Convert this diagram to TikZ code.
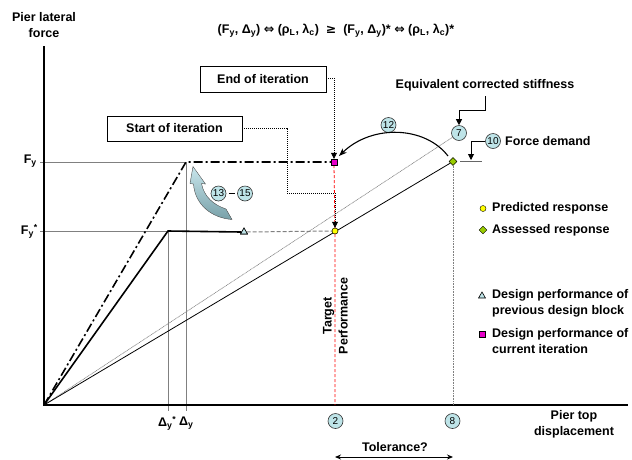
\documentclass[tikz,border=0pt]{standalone}
\usepackage{fontspec}
\setmainfont{Liberation Sans}
\newfontfamily\symfont{DejaVu Sans}
\usetikzlibrary{arrows.meta,shapes.geometric}
\definecolor{circfill}{RGB}{190,228,232}
\definecolor{pinkc}{RGB}{230,0,200}
\definecolor{yelc}{RGB}{255,255,0}
\definecolor{greenc}{RGB}{153,204,0}
\definecolor{arrtop}{RGB}{200,230,236}
\definecolor{arrbot}{RGB}{120,160,168}
\tikzset{
  lbl/.style={font=\bfseries\fontsize{12.5}{16}\selectfont, inner sep=0pt},
  num/.style={circle, draw=black!80, line width=0.6pt, fill=circfill, minimum size=15pt, inner sep=0pt, font=\fontsize{10}{10}\selectfont},
  itbox/.style={draw, line width=0.8pt, inner sep=0pt, font=\bfseries\fontsize{12.5}{16}\selectfont},
  guide/.style={draw=gray, line width=0.9pt},
  leader/.style={draw=black, line width=0.7pt, dash pattern=on 1pt off 1pt},
  tip/.style={-{Triangle[length=6pt,width=6pt]}},
  ysq/.style={circle, draw=black, line width=0.4pt, fill=yelc, minimum size=6pt, inner sep=0pt},
  gdia/.style={diamond, draw=black, line width=0.4pt, fill=greenc, minimum size=8pt, inner sep=0pt},
  psq/.style={rectangle, draw=black, line width=0.4pt, fill=pinkc, minimum size=6pt, inner sep=0pt},
  tri/.style={regular polygon, regular polygon sides=3, draw=black, line width=0.6pt, fill=circfill, minimum size=8pt, inner sep=0pt},
}
\begin{document}
\begin{tikzpicture}[x=1pt,y=-1pt]
\useasboundingbox (0,0) rectangle (632,459);
% coordinates
\coordinate (O) at (44,405);
\coordinate (Ytop) at (44,46);
\coordinate (Xend) at (628,405);
\coordinate (Y) at (186,162);
\coordinate (Ys) at (168,231);
\coordinate (FyL) at (40,162);
\coordinate (FysL) at (40,231);
\coordinate (DyB) at (186,411);
\coordinate (DysB) at (168,411);
% guides
\draw[guide] (FyL) -- (Y) -- (DyB);
\draw[guide] (FysL) -- (Ys) -- (DysB);
% axes
\draw[line width=1.2pt] (Ytop) -- (O) -- (Xend);
% markers
\node[psq] (P) at (334,162) {};
\node[ysq] (Q) at (335,231) {};
\node[gdia] (D) at (453,161.5) {};
\node[tri] (T) at (244,232) {};
\node[num] (c7) at (459,133) {7};
% lines from origin
\draw[draw=gray, line width=0.6pt, dash pattern=on 1pt off 0.6pt] (O) -- (c7);
\draw[line width=0.8pt] (O) -- (D);
\draw[line width=1.6pt, dash pattern=on 9pt off 3pt on 2pt off 3pt] (O) -- (Y) -- (P.west);
\draw[line width=1.6pt] (O) -- (Ys) -- (T.west);
\draw[draw=gray, line width=1pt, dash pattern=on 4pt off 2pt] (T.east) -- (Q.west);
\coordinate (PB) at (335,405);
\draw[red, line width=0.8pt, dash pattern=on 3pt off 2pt] (P.south) -- (Q) -- (PB);
\coordinate (DB) at (453,405);
\draw[draw=gray, line width=0.8pt, dash pattern=on 1pt off 0.6pt] (D.south) -- (DB);
% redraw markers on top
\node[psq] at (334,162) {};
\node[ysq] at (335,231) {};
\node[gdia] at (453,161.5) {};
\node[tri] at (244,232) {};
% axis labels
\node[lbl, align=center] (ylab) at (44,25) {Pier lateral\\force};
\node[lbl, align=center] (xlab) at (574,424) {Pier top\\displacement};
\node[lbl, anchor=east] (Fy) at (37,161) {F\textsubscript{y}};
\node[lbl, anchor=east] (Fys) at (38,231) {F\textsubscript{y}\textsuperscript{*}};
\node[lbl, anchor=east] (Dys) at (176.5,423) {Δ\textsubscript{y}\textsuperscript{*}};
\node[lbl, anchor=west] (Dy) at (179,423) {Δ\textsubscript{y}};
% formula
\node[lbl] (form) at (336,31) {(F\textsubscript{y}, Δ\textsubscript{y}) {\symfont\bfseries ⇔} (ρ\textsubscript{L}, λ\textsubscript{c})\ \ {\symfont\bfseries ≥}\ \ (F\textsubscript{y}, Δ\textsubscript{y})* {\symfont\bfseries ⇔} (ρ\textsubscript{L}, λ\textsubscript{c})*};
% boxes
\node[itbox, minimum width=126pt, minimum height=26pt] (endb) at (263,79) {End of iteration};
\node[itbox, minimum width=135pt, minimum height=25pt] (startb) at (174.5,128.5) {Start of iteration};
\coordinate (e1) at (334,78);
\draw[leader] (endb.east |- e1) -- (e1);
\draw[leader, tip] (e1) -- (P.north);
\coordinate (s1) at (287,128);
\coordinate (s2) at (287,193);
\coordinate (s3) at (335,193);
\draw[leader] (startb.east |- s1) -- (s1) -- (s2) -- (s3);
\draw[leader, tip] (s3) -- (Q.north);
% equivalent stiffness
\node[lbl] (eqs) at (485,85) {Equivalent corrected stiffness};
\coordinate (q1) at (485,110);
\coordinate (q2) at (459,110);
\draw[line width=1pt] (eqs.south |- 0,96) -- (q1) -- (q2);
\draw[line width=1pt, tip] (q2) -- (c7.north);
% force demand
\node[num] (c10) at (493,141) {10};
\node[lbl, anchor=west] (fd) at (505,141) {Force demand};
\coordinate (b1) at (460,161.5);
\coordinate (b2) at (482,161.5);
\draw[draw=gray!80!black, line width=1.6pt] (b1) -- (b2);
\coordinate (f1) at (471,141);
\coordinate (f2) at (471,160);
\draw[line width=0.9pt] (c10.west) -- (f1);
\draw[line width=0.9pt, tip] (f1) -- (f2);
% curved arrow 12
\node[num] (c12) at (388.5,125) {12};
\draw[line width=1.1pt, -{Stealth[length=8pt,width=6pt]}] (448,156) .. controls (425,126) and (372,124) .. (339,156);
% 13-15
\node[num] (c13) at (218.5,193.5) {13};
\node[num] (c15) at (245,193.5) {15};
\draw[line width=0.9pt] ([xshift=2.5pt]c13.east) -- ([xshift=-2.5pt]c15.west);
\draw[draw=gray!60!black, line width=0.4pt, top color=arrtop, bottom color=arrbot]
  (193,166.5) -- (205.5,184) -- (201.5,183.5)
  .. controls (204,197) and (214,205) .. (226,209)
  -- (232,219.5)
  .. controls (212,218) and (195,205) .. (193.5,184)
  -- (190,183.5) -- cycle;
% target performance
\node[lbl, rotate=90, align=center] (tp) at (335.5,316) {Target\\Performance};
% numbers on x axis
\node[num] (c2) at (335.5,421) {2};
\node[num] (c8) at (452.5,421) {8};
% tolerance
\node[lbl] (tol) at (395,447) {Tolerance?};
\coordinate (t1) at (335,457);
\coordinate (t2) at (453,457);
\draw[line width=0.9pt, {Stealth[length=6pt,width=5pt]}-{Stealth[length=6pt,width=5pt]}] (t1) -- (t2);
% legend
\node[ysq] (lg1) at (483,208.5) {};
\node[lbl, anchor=west] (lt1) at (492,208.5) {Predicted response};
\node[gdia] (lg2) at (483,230) {};
\node[lbl, anchor=west] (lt2) at (492,230.5) {Assessed response};
\node[tri] (lg3) at (482,296) {};
\node[lbl, anchor=west, align=left] (lt3) at (492,303) {Design performance of\\previous design block};
\node[psq] (lg4) at (482,334) {};
\node[lbl, anchor=west, align=left] (lt4) at (492,341.5) {Design performance of\\current iteration};
\end{tikzpicture}
\end{document}
